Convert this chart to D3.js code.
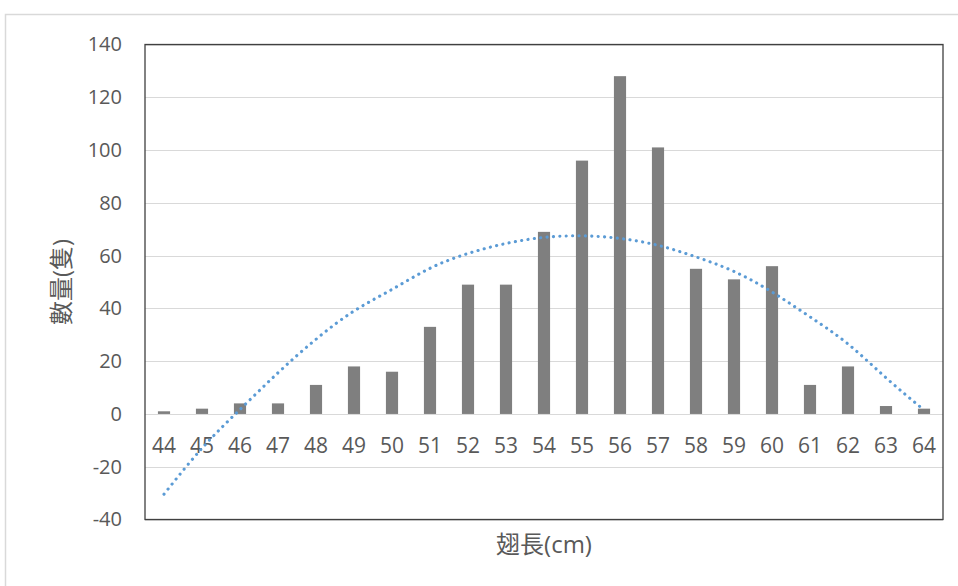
<!DOCTYPE html>
<html><head><meta charset="utf-8">
<script src="https://cdn.jsdelivr.net/npm/d3@7"></script>
<style>html,body{margin:0;padding:0;background:#fff;overflow:hidden}</style>
</head><body>
<svg id="chart" width="958" height="586"></svg>
<script>
const categories = ["44","45","46","47","48","49","50","51","52","53","54","55","56","57","58","59","60","61","62","63","64"];
const counts = [1,2,4,4,11,18,16,33,49,49,69,96,128,101,55,51,56,11,18,3,2];
// dotted trendline, values at each category
const trend = [-30.4,-13,1.7,15.6,28.3,39,47.2,55.2,60.8,64.6,66.9,67.5,66.5,63.9,59.5,54,46.2,36.8,26.5,13.7,1.5];
const yTicks = [-40,-20,0,20,40,60,80,100,120,140];
const xTitle = "翅長(cm)";
const yTitle = "數量(隻)";

const svg = d3.select("#chart");
const L = 145, R = 943, T = 44.5, B = 519.5;
const font = "'Open Sans','Noto Sans CJK TC',sans-serif";

svg.append("rect").attr("x",5.5).attr("y",14.5).attr("width",1200).attr("height",1200)
  .attr("fill","none").attr("stroke","#d9d9d9").attr("stroke-width",1.5);

const x = d3.scaleBand().domain(categories).range([L,R]).paddingInner(0).paddingOuter(0);
const y = d3.scaleLinear().domain([-40,140]).range([B,T]);

// gridlines
svg.append("g").selectAll("line").data(yTicks).join("line")
  .attr("x1",L).attr("x2",R).attr("y1",d=>Math.round(y(d))+0.5).attr("y2",d=>Math.round(y(d))+0.5)
  .attr("stroke","#d9d9d9").attr("stroke-width",1);

// y axis labels
const yAxis = d3.axisLeft(y).tickValues(yTicks).tickFormat(d=>String(d)).tickSize(0).tickPadding(0);
const ya = svg.append("g").attr("transform",`translate(122,0)`).call(yAxis);
ya.select(".domain").remove();
ya.selectAll("text").attr("font-family",font).attr("font-size",20).attr("fill","#595959");

// bars
const bw = x.bandwidth()*0.32;
svg.append("g").selectAll("rect").data(counts).join("rect")
  .attr("x",(d,i)=>x(categories[i])+x.bandwidth()/2-bw/2)
  .attr("width",bw)
  .attr("y",d=>y(Math.max(0,d)))
  .attr("height",d=>Math.abs(y(d)-y(0)))
  .attr("fill","#7f7f7f");

// x axis labels (next to zero)
const xAxis = d3.axisBottom(x).tickSize(0).tickPadding(0);
const xa = svg.append("g").attr("transform",`translate(0,${y(0)+39})`).call(xAxis);
xa.select(".domain").remove();
xa.selectAll("text").attr("font-family",font).attr("font-size",21).attr("fill","#595959").attr("dy",0);

// trendline
const line = d3.line().x((d,i)=>x(categories[i])+x.bandwidth()/2).y(d=>y(d)).curve(d3.curveNatural);
svg.append("path").datum(trend).attr("d",line).attr("fill","none")
  .attr("stroke","#5b9bd5").attr("stroke-width",3.1).attr("stroke-linecap","round")
  .attr("stroke-dasharray","0.1 6.3");

// plot border
svg.append("rect").attr("x",L).attr("y",T).attr("width",R-L).attr("height",B-T)
  .attr("fill","none").attr("stroke","#404040").attr("stroke-width",1.3);

// titles
svg.append("text").attr("x",(L+R)/2).attr("y",553).attr("text-anchor","middle")
  .attr("font-family",font).attr("font-size",24).attr("fill","#595959").text(xTitle);
svg.append("text").attr("transform",`translate(70,${(T+B)/2}) rotate(-90)`).attr("text-anchor","middle")
  .attr("font-family",font).attr("font-size",24).attr("fill","#595959").text(yTitle);
</script>
</body></html>
